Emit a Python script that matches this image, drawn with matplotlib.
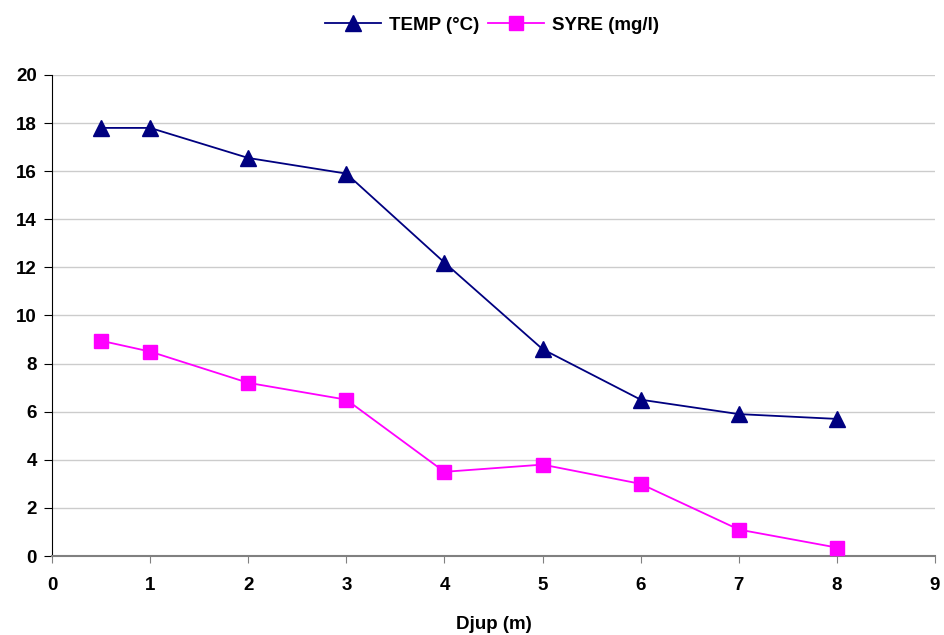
import matplotlib
matplotlib.use("Agg")
import matplotlib.pyplot as plt

# Depth profile: temperature and oxygen
djup = [0.5, 1, 2, 3, 4, 5, 6, 7, 8]
temp = [17.8, 17.8, 16.55, 15.9, 12.2, 8.6, 6.5, 5.9, 5.7]
syre = [8.95, 8.5, 7.2, 6.5, 3.5, 3.8, 3.0, 1.1, 0.35]

plt.rcParams["font.family"] = ["Liberation Sans", "DejaVu Sans"]
plt.rcParams["font.weight"] = "bold"

fig = plt.figure(figsize=(9.44, 6.35), dpi=100)
ax = fig.add_axes([0.0551, 0.1244, 0.9354, 0.7575])

ax.plot(djup, temp, color="#000080", lw=1.3, marker="^", ms=11,
        label="TEMP (°C)", clip_on=False, zorder=3)
ax.plot(djup, syre, color="#ff00ff", lw=1.3, marker="s", ms=9.5,
        label="SYRE (mg/l)", clip_on=False, zorder=3)

ax.set_xlim(0, 9)
ax.set_ylim(0, 20)
ax.set_xticks(range(0, 10))
ax.set_yticks(range(0, 21, 2))
ax.yaxis.grid(True, color="#cccccc", lw=1)
ax.set_axisbelow(True)

for side in ("top", "right"):
    ax.spines[side].set_visible(False)
ax.spines["left"].set_color("black")
ax.spines["bottom"].set_color("#808080")
ax.spines["bottom"].set_linewidth(1.5)
ax.tick_params(axis="y", length=6, color="black", labelsize=13.5, pad=5)
ax.tick_params(axis="x", length=5, color="#808080", labelsize=13.5, pad=10)
for lbl in ax.get_xticklabels() + ax.get_yticklabels():
    lbl.set_fontweight("bold")

ax.set_xlabel("Djup (m)", fontsize=13.5, fontweight="bold", labelpad=16)

fig.legend(loc="center", bbox_to_anchor=(0.521, 0.96), ncol=2, frameon=False,
           prop={"size": 13.5, "weight": "bold"}, handlelength=3,
           columnspacing=0.5, handletextpad=0.4)

fig.savefig("out.png", dpi=100)
